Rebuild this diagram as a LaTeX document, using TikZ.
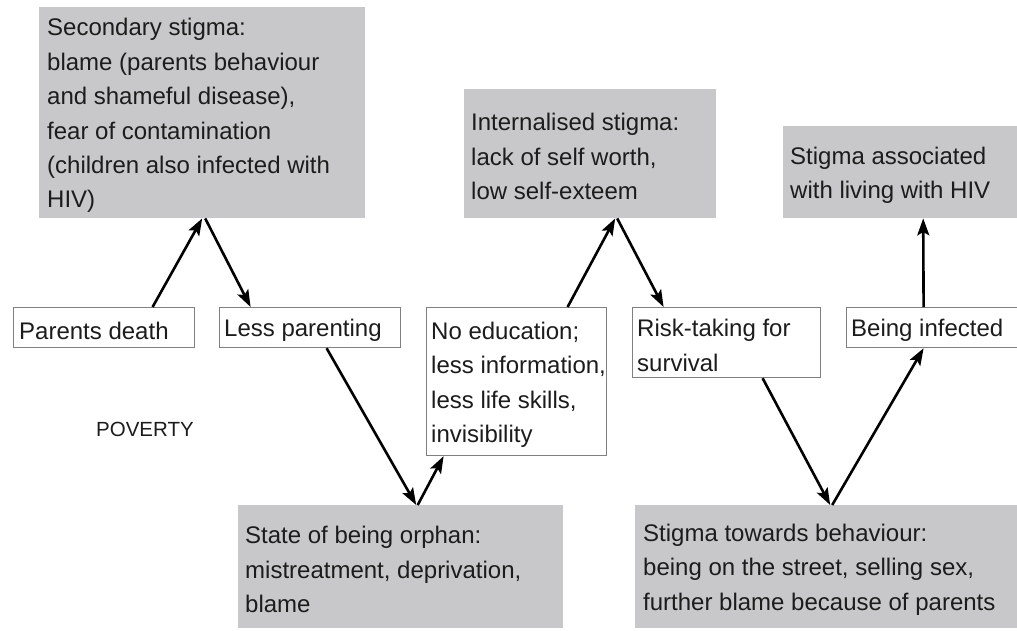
\documentclass[tikz,border=0pt]{standalone}
\usepackage{fontspec}
\setmainfont{Liberation Sans}
\usetikzlibrary{arrows.meta}
\definecolor{boxgray}{RGB}{200,200,202}
\definecolor{bordergray}{RGB}{128,128,128}
\definecolor{txt}{RGB}{28,28,28}
\tikzset{
  gbox/.style={anchor=north west, inner sep=0pt, fill=boxgray, draw=none},
  wbox/.style={anchor=north west, inner sep=0pt, fill=white, draw=bordergray, line width=1.2pt},
  label/.style={anchor=west, align=left, inner sep=0pt, text=txt,
    font=\fontsize{24}{34.4}\selectfont, yshift=-3pt},
  arr/.style={line width=2.6pt, -{Stealth[length=17pt,width=12pt,inset=3.5pt]}}
}
\begin{document}
\begin{tikzpicture}[x=1pt,y=-1pt]
\useasboundingbox (0,0) rectangle (1017,630);
% grey stigma boxes
\node[gbox, minimum width=326pt, minimum height=211pt] (ss) at (39,7) {};
\node[label] (ss-t) at ([xshift=8pt]ss.west)
  {Secondary stigma:\\blame (parents behaviour\\and shameful disease),\\fear of contamination\\(children also infected with\\HIV)};
\node[gbox, minimum width=252pt, minimum height=129pt] (is) at (464,89) {};
\node[label] (is-t) at ([xshift=7pt]is.west)
  {Internalised stigma:\\lack of self worth,\\low self-exteem};
\node[gbox, minimum width=250pt, minimum height=92pt] (sa) at (783,126) {};
\node[label] (sa-t) at ([xshift=7pt]sa.west)
  {Stigma associated\\with living with HIV};
\node[gbox, minimum width=325pt, minimum height=123pt] (so) at (238,505) {};
\node[label] (so-t) at ([xshift=7pt]so.west)
  {State of being orphan:\\mistreatment, deprivation,\\blame};
\node[gbox, minimum width=395pt, minimum height=123pt] (sb) at (635,505) {};
\node[label] (sb-t) at ([xshift=8pt]sb.west)
  {Stigma towards behaviour:\\being on the street, selling sex,\\further blame because of parents};
% white boxes
\node[wbox, minimum width=181pt, minimum height=40pt] (pd) at (13,307) {};
\node[label] (pd-t) at ([xshift=6pt]pd.west) {Parents death};
\node[wbox, minimum width=181pt, minimum height=40pt] (lp) at (219,307) {};
\node[label] (lp-t) at ([xshift=5pt]lp.west) {Less parenting};
\node[wbox, minimum width=180pt, minimum height=148pt] (ne) at (426,307) {};
\node[label] (ne-t) at ([xshift=5pt]ne.west)
  {No education;\\less information,\\less life skills,\\invisibility};
\node[wbox, minimum width=188pt, minimum height=70pt] (rt) at (632,307) {};
\node[label] (rt-t) at ([xshift=5pt]rt.west) {Risk-taking for\\survival};
\node[wbox, minimum width=190pt, minimum height=40pt] (bi) at (846,307) {};
\node[label] (bi-t) at ([xshift=5pt]bi.west) {Being infected};
% free label
\node[anchor=west, inner sep=0pt, text=txt, font=\fontsize{20.5}{24}\selectfont] (pov) at (96,429) {POVERTY};
% connectors
\draw[arr] ([xshift=48.5pt]pd.north) -- (ss.south);
\draw[arr] ([xshift=3pt]ss.south) -- ([xshift=-59.5pt]lp.north);
\draw[arr] ([xshift=16.5pt]lp.south) -- ([xshift=15.5pt]so.north);
\draw[arr] ([xshift=17pt]so.north) -- ([xshift=-73pt]ne.south);
\draw[arr] ([xshift=51pt]ne.north) -- ([xshift=25pt]is.south);
\draw[arr] ([xshift=27pt]is.south) -- ([xshift=-63pt]rt.north);
\draw[arr] ([xshift=36pt]rt.south) -- ([xshift=-2.5pt]sb.north);
\draw[arr] ([xshift=-0.5pt]sb.north) -- ([xshift=-18pt]bi.south);
\draw[arr] ([xshift=-18pt]bi.north) -- ([xshift=15pt]sa.south);
\end{tikzpicture}
\end{document}
